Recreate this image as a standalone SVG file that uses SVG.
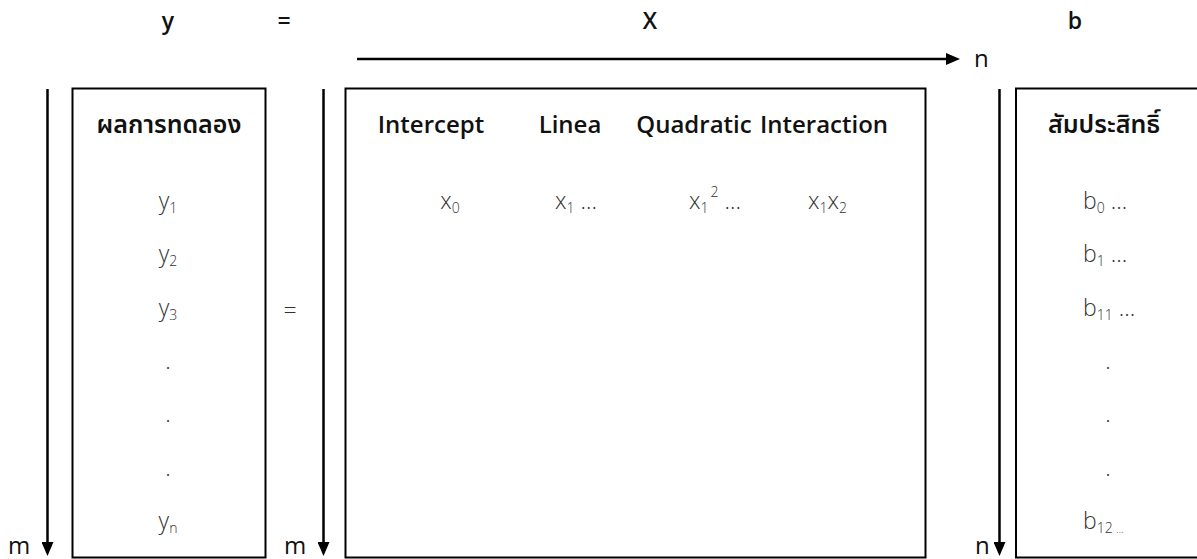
<svg xmlns="http://www.w3.org/2000/svg" width="1197" height="559" viewBox="0 0 1197 559">
<defs>
<marker id="ah" viewBox="0 0 14 12" refX="10" refY="6" markerWidth="14" markerHeight="12" markerUnits="userSpaceOnUse" orient="auto">
<path d="M0,0 L14,6 L0,12 z" fill="#000"/>
</marker>
<style>
.lbl{font-family:"Open Sans","Noto Sans","DejaVu Sans",sans-serif;font-size:23px;font-weight:600;fill:#111}
.ax{font-family:"Open Sans","Noto Sans","DejaVu Sans",sans-serif;font-size:24px;font-weight:400;fill:#111}
.hd{font-family:"Open Sans","Noto Sans Thai","Leelawadee UI","Tahoma","Noto Sans","DejaVu Sans",sans-serif;font-size:24px;font-weight:600;fill:#111}
.th{font-size:25px}
.cell{font-family:"Open Sans","Noto Sans","DejaVu Sans",sans-serif;font-size:23px;font-weight:300;fill:#333}
.sub{font-size:14px}
.tiny{font-size:10px}
.box{fill:#fff;stroke:#000;stroke-width:2}
.arr{stroke:#000;stroke-width:2.5;fill:none}
</style>
</defs>
<rect width="1197" height="559" fill="#fff"/>

<g id="top-labels">
<text class="lbl" x="168" y="29" text-anchor="middle">y</text>
<text class="lbl" x="284" y="29" text-anchor="middle">=</text>
<text class="lbl" x="650" y="29" text-anchor="middle">X</text>
<text class="lbl" x="1075" y="29" text-anchor="middle">b</text>
</g>

<g id="node-y">
<rect class="box" x="72.5" y="88.5" width="193" height="469"/>
<text class="hd th" x="169" y="133" text-anchor="middle">ผลการทดลอง</text>
<text class="cell" x="168" y="209" text-anchor="middle">y<tspan class="sub" dy="4">1</tspan></text>
<text class="cell" x="168" y="262" text-anchor="middle">y<tspan class="sub" dy="4">2</tspan></text>
<text class="cell" x="168" y="316" text-anchor="middle">y<tspan class="sub" dy="4">3</tspan></text>
<text class="cell" x="168" y="369" text-anchor="middle">.</text>
<text class="cell" x="168" y="422" text-anchor="middle">.</text>
<text class="cell" x="168" y="476" text-anchor="middle">.</text>
<text class="cell" x="168" y="529" text-anchor="middle">y<tspan class="sub" dy="4">n</tspan></text>
</g>

<g id="node-eq">
<text class="cell" x="290" y="319" text-anchor="middle">=</text>
</g>

<g id="node-X">
<rect class="box" x="345.5" y="88.5" width="580" height="469"/>
<text class="hd" x="431" y="133" text-anchor="middle">Intercept</text>
<text class="hd" x="570" y="133" text-anchor="middle">Linea</text>
<text class="hd" x="694" y="133" text-anchor="middle">Quadratic</text>
<text class="hd" x="824" y="133" text-anchor="middle">Interaction</text>
<text class="cell" x="450" y="209" text-anchor="middle">x<tspan class="sub" dy="4">0</tspan></text>
<text class="cell" x="555" y="209">x<tspan class="sub" dy="4">1</tspan><tspan dy="-4"> …</tspan></text>
<text class="cell" x="689" y="209">x<tspan class="sub" dy="4">1</tspan><tspan class="sub" dx="2" dy="-16">2</tspan><tspan dy="12"> …</tspan></text>
<text class="cell" x="808" y="209">x<tspan class="sub" dy="4">1</tspan><tspan dy="-4">x</tspan><tspan class="sub" dy="4">2</tspan></text>
</g>

<g id="node-b">
<rect class="box" x="1016" y="88.5" width="200" height="469"/>
<text class="hd th" x="1104" y="133" text-anchor="middle">สัมประสิทธิ์</text>
<text class="cell" x="1083" y="209">b<tspan class="sub" dy="4">0</tspan><tspan dy="-4"> …</tspan></text>
<text class="cell" x="1083" y="262">b<tspan class="sub" dy="4">1</tspan><tspan dy="-4"> …</tspan></text>
<text class="cell" x="1083" y="316">b<tspan class="sub" dy="4">11</tspan><tspan dy="-4"> …</tspan></text>
<text class="cell" x="1108" y="369" text-anchor="middle">.</text>
<text class="cell" x="1108" y="422" text-anchor="middle">.</text>
<text class="cell" x="1108" y="476" text-anchor="middle">.</text>
<text class="cell" x="1083" y="529">b<tspan class="sub" dy="4">12 </tspan><tspan class="tiny">…</tspan></text>
</g>

<g id="connectors">
<line class="arr" x1="357" y1="59" x2="956" y2="59" marker-end="url(#ah)"/>
<line class="arr" x1="47.5" y1="89" x2="47.5" y2="552" marker-end="url(#ah)"/>
<line class="arr" x1="323.5" y1="89" x2="323.5" y2="552" marker-end="url(#ah)"/>
<line class="arr" x1="999.5" y1="89" x2="999.5" y2="552" marker-end="url(#ah)"/>
<text class="ax" x="974" y="67">n</text>
<text class="ax" x="8" y="554">m</text>
<text class="ax" x="284" y="554">m</text>
<text class="ax" x="975" y="554">n</text>
</g>
</svg>
